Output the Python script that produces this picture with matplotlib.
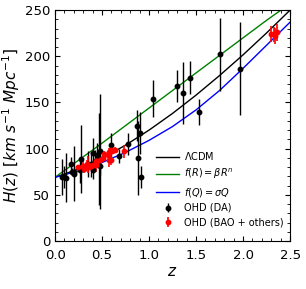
import numpy as np
import matplotlib
matplotlib.use("Agg")
import matplotlib.pyplot as plt
from matplotlib.ticker import MultipleLocator

# OHD from differential age (cosmic chronometers)
z_da = [0.07, 0.09, 0.12, 0.17, 0.179, 0.199, 0.2, 0.27, 0.28, 0.352, 0.38, 0.4,
        0.4004, 0.425, 0.445, 0.47, 0.4783, 0.48, 0.593, 0.68, 0.781, 0.875,
        0.88, 0.9, 0.91, 1.037, 1.3, 1.363, 1.43, 1.53, 1.75, 1.965]
H_da = [69, 69, 68.6, 83, 75, 75, 72.9, 77, 88.8, 83, 83, 95,
        77, 87.1, 92.8, 89, 80.9, 97, 104, 92, 105, 125,
        90, 117, 69, 154, 168, 160, 177, 140, 202, 186.5]
err_da = [19.6, 12, 26.2, 8, 4, 5, 29.6, 14, 36.6, 14, 13.5, 17,
          10.2, 11.2, 12.9, 50, 9, 62, 13, 8, 12, 17,
          40, 23, 12, 20, 17, 33.6, 18, 14, 40, 50.4]

# OHD from BAO and other methods
z_bao = [0.24, 0.30, 0.31, 0.34, 0.35, 0.36, 0.38, 0.40, 0.43, 0.44, 0.44, 0.48,
         0.51, 0.52, 0.56, 0.57, 0.57, 0.59, 0.60, 0.61, 0.64, 0.73,
         2.30, 2.33, 2.34, 2.36]
H_bao = [79.69, 81.7, 78.18, 83.8, 82.7, 79.94, 81.5, 82.04, 86.45, 82.6, 84.81, 87.79,
         90.4, 94.35, 93.34, 87.6, 96.8, 98.48, 87.9, 97.3, 98.82, 97.3,
         224, 224, 222, 226]
err_bao = [2.99, 6.22, 4.74, 3.66, 9.1, 3.38, 1.9, 2.03, 3.68, 7.8, 1.83, 2.03,
           1.9, 2.64, 2.3, 7.8, 3.4, 3.19, 6.1, 2.1, 2.99, 7.0,
           8.6, 8, 8.5, 9.3]

# model curves
z_model = [0.0, 0.25, 0.5, 0.75, 1.0, 1.25, 1.5, 1.75, 2.0, 2.25, 2.5]
H_lcdm = [69, 78.0, 89.7, 103.8, 120.1, 138.2, 158.0, 179.2, 201.6, 225.3, 250]
H_fR = [69, 87.5, 106, 125, 144, 163, 182, 201, 220, 239, 257]
H_fQ = [69, 76, 85, 96, 109, 124, 142, 163, 187, 212, 237]

fig = plt.figure(figsize=(3.06, 2.89), dpi=100)
ax = fig.add_axes([0.18, 0.166, 0.768, 0.799])

ax.plot(z_model, H_lcdm, color="black", lw=1.0, label=r"$\Lambda$CDM")
ax.plot(z_model, H_fR, color="green", lw=1.0, label=r"$f(R)=\beta R^n$")
ax.plot(z_model, H_fQ, color="blue", lw=1.0, label=r"$f(Q)=\sigma Q$")
ax.errorbar(z_da, H_da, yerr=err_da, fmt="o", color="black", ms=3.2,
            elinewidth=1.0, label="OHD (DA)")
ax.errorbar(z_bao, H_bao, yerr=err_bao, fmt="o", color="red", ms=3.2,
            elinewidth=1.2, label="OHD (BAO + others)")

ax.set_xlim(0, 2.5)
ax.set_ylim(0, 250)
ax.xaxis.set_major_locator(MultipleLocator(0.5))
ax.xaxis.set_minor_locator(MultipleLocator(0.1))
ax.yaxis.set_major_locator(MultipleLocator(50))
ax.yaxis.set_minor_locator(MultipleLocator(10))
ax.tick_params(which="both", direction="in", top=True, right=True, labelsize=9.5)
ax.tick_params(which="major", length=3.5)
ax.tick_params(which="minor", length=2)
ax.tick_params(axis="x", pad=6)

ax.set_xlabel(r"$z$", fontsize=11, labelpad=1)
ax.set_ylabel(r"$H(z)\ [km\ s^{-1}\ Mpc^{-1}]$", fontsize=11, labelpad=2)

ax.legend(loc="lower right", bbox_to_anchor=(1.0, 0.03), frameon=False,
          fontsize=7.0, handlelength=2.3, handletextpad=0.5,
          borderaxespad=0.3, labelspacing=0.45)

fig.savefig("out.png", dpi=100)
